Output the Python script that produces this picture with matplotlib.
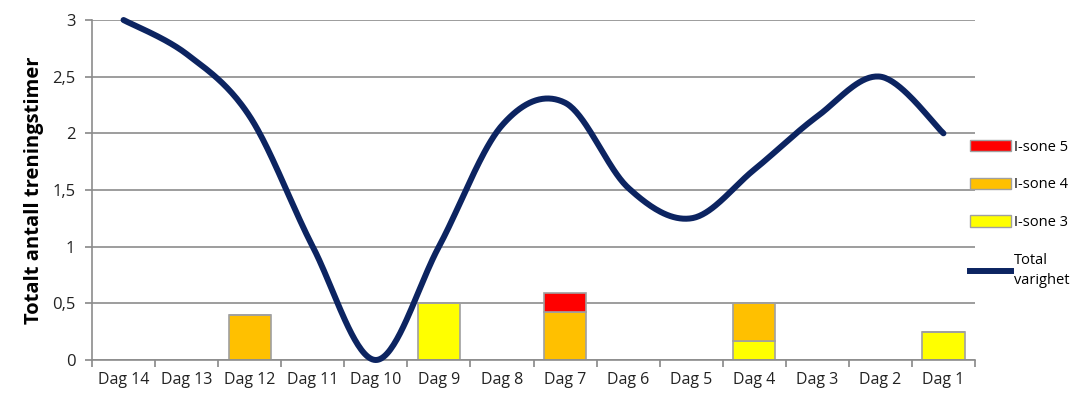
import numpy as np
import matplotlib
matplotlib.use("Agg")
import matplotlib.pyplot as plt
from matplotlib.patches import Patch
from matplotlib.lines import Line2D

categories = ["Dag 14", "Dag 13", "Dag 12", "Dag 11", "Dag 10", "Dag 9", "Dag 8",
              "Dag 7", "Dag 6", "Dag 5", "Dag 4", "Dag 3", "Dag 2", "Dag 1"]
sone3 = [0, 0, 0, 0, 0, 0.5, 0, 0, 0, 0, 0.17, 0, 0, 0.25]
sone4 = [0, 0, 0.4, 0, 0, 0, 0, 0.42, 0, 0, 0.33, 0, 0, 0]
sone5 = [0, 0, 0, 0, 0, 0, 0, 0.17, 0, 0, 0, 0, 0, 0]
total = [3.0, 2.7, 2.15, 1.0, 0.0, 1.0, 2.07, 2.27, 1.52, 1.25, 1.68, 2.15, 2.5, 2.0]
yticks = [0, 0.5, 1, 1.5, 2, 2.5, 3]
ytick_labels = ["0", "0,5", "1", "1,5", "2", "2,5", "3"]

plt.rcParams['font.family'] = ['Open Sans', 'DejaVu Sans']

fig = plt.figure(figsize=(10.72, 4.01), dpi=100)
ax = fig.add_axes([92/1072, 1-360/401, (975-92)/1072, 340/401])

x = np.arange(len(categories))
w = 0.67
s3 = np.array(sone3); s4 = np.array(sone4); s5 = np.array(sone5)
ec = "#a0a0a0"
ax.bar(x, s3, w, color="#ffff00", edgecolor=ec, linewidth=1.2, zorder=2)
ax.bar(x, s4, w, bottom=s3, color="#ffc000", edgecolor=ec, linewidth=1.2, zorder=2)
ax.bar(x, s5, w, bottom=s3 + s4, color="#ff0000", edgecolor=ec, linewidth=1.2, zorder=2)

# Excel-like smoothed line (Catmull-Rom Bezier)
pts = np.column_stack([x, total]).astype(float)
xs, ys = [], []
n = len(pts)
for i in range(n - 1):
    p0 = pts[max(i - 1, 0)]; p1 = pts[i]; p2 = pts[i + 1]; p3 = pts[min(i + 2, n - 1)]
    c1 = p1 + (p2 - p0) / 6
    c2 = p2 - (p3 - p1) / 6
    t = np.linspace(0, 1, 40)[:, None]
    b = (1-t)**3*p1 + 3*(1-t)**2*t*c1 + 3*(1-t)*t**2*c2 + t**3*p2
    xs.extend(b[:, 0]); ys.extend(b[:, 1])
ax.plot(xs, ys, color="#0c2461", lw=4.3, solid_capstyle="round", zorder=3, clip_on=False)

ax.set_xlim(-0.5, len(categories) - 0.5)
ax.set_ylim(0, 3)
ax.set_yticks(yticks)
ax.set_yticklabels(ytick_labels)
ax.set_xticks(x)
ax.set_xticklabels(categories)
ax.set_xticks(np.arange(-0.5, len(categories)), minor=True)
ax.tick_params(axis="x", which="major", length=0, pad=9, labelsize=11.5, colors="#222222")
ax.tick_params(axis="x", which="minor", length=5, color="#888888", width=1.2)
ax.tick_params(axis="y", length=5, color="#888888", width=1.2, labelsize=12, colors="#222222", pad=7)
ax.yaxis.grid(True, color="#8c8c8c", lw=1.2, zorder=0)
ax.set_axisbelow(True)
for s in ["top", "right"]:
    ax.spines[s].set_visible(False)
for s in ["left", "bottom"]:
    ax.spines[s].set_color("#8c8c8c")
    ax.spines[s].set_linewidth(1.2)
ax.set_ylabel("Totalt antall treningstimer", fontsize=14.5, fontweight="bold", labelpad=6)

handles = [Patch(facecolor="#ff0000", edgecolor=ec),
           Patch(facecolor="#ffc000", edgecolor=ec),
           Patch(facecolor="#ffff00", edgecolor=ec),
           Line2D([0], [0], color="#0c2461", lw=4.3)]
labels = ["I-sone 5", "I-sone 4", "I-sone 3", "Total\nvarighet"]
leg = fig.legend(handles, labels, loc="upper left", bbox_to_anchor=(964/1072, 1-134/401),
                 frameon=False, fontsize=10.5, labelspacing=1.55, handlelength=2.8,
                 handleheight=0.8, handletextpad=0.2, borderaxespad=0)
for txt in leg.get_texts():
    txt.set_linespacing(1.5)

fig.savefig("out.png", dpi=100)
